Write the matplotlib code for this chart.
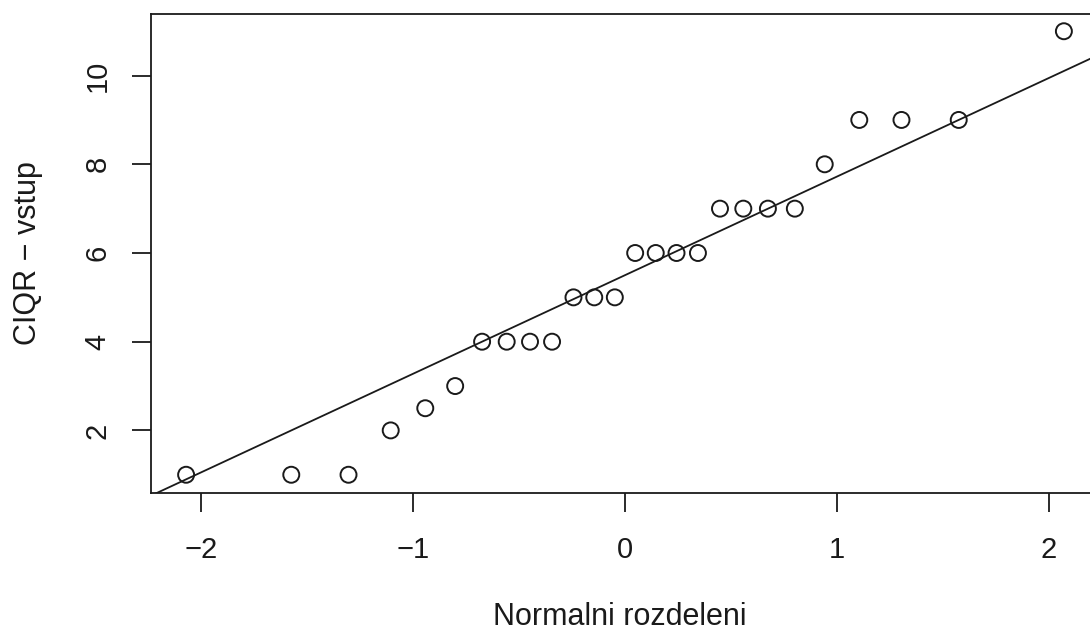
import numpy as np
import matplotlib
matplotlib.use("Agg")
import matplotlib.pyplot as plt

plt.rcParams["font.family"] = ["Liberation Sans", "DejaVu Sans"]

# teoreticke kvantily (qqnorm, n = 26) a pozorovane hodnoty
theor = [-2.070, -1.574, -1.304, -1.105, -0.942, -0.801, -0.674, -0.558, -0.448,
         -0.344, -0.243, -0.145, -0.048, 0.048, 0.145, 0.243, 0.344, 0.448,
         0.558, 0.674, 0.801, 0.942, 1.105, 1.304, 1.574, 2.070]
ciqr = [1, 1, 1, 2, 2.5, 3, 4, 4, 4, 4, 5, 5, 5, 6, 6, 6, 6, 7, 7, 7, 7, 8,
        9, 9, 9, 11]
xticks = [-2, -1, 0, 1, 2]
yticks = [2, 4, 6, 8, 10]

x = np.array(theor)
y = np.array(ciqr)

fig = plt.figure(figsize=(10.9, 6.34), dpi=100)
ax = fig.add_axes([151 / 1090, 1 - 492.5 / 634, 948 / 1090, 479 / 634])

ax.scatter(x, y, s=11.5 ** 2, facecolors="none", edgecolors="#1a1a1a",
           linewidths=1.4, zorder=3)

# qqline: primka pres kvartily
q1, q3 = np.percentile(y, [25, 75])
z1, z3 = -0.6745, 0.6745
slope = (q3 - q1) / (z3 - z1)
icpt = q1 - slope * z1
xl = np.array([-3, 3])
ax.plot(xl, icpt + slope * xl, color="#1a1a1a", lw=1.3)

ax.set_xlim(-2.2356, 2.2356)
ax.set_ylim(0.6, 11.4)
ax.set_xticks(xticks)
ax.set_xticklabels(["\u22122", "\u22121", "0", "1", "2"])
ax.set_yticks(yticks)
ax.set_yticklabels([str(v) for v in yticks], rotation=90, va="center")

for s in ax.spines.values():
    s.set_linewidth(1.3)
    s.set_color("#1a1a1a")

ax.tick_params(length=13.5, width=1.3, color="#1a1a1a", labelsize=21,
               labelcolor="#1a1a1a")
ax.tick_params(axis="x", pad=18)
ax.tick_params(axis="y", pad=15)

ax.set_xlabel("Normalni rozdeleni", fontsize=22, color="#1a1a1a", va="center")
ax.xaxis.set_label_coords(0.494, (492.5 - 617) / 479)
ax.set_ylabel("CIQR \u2212 vstup", fontsize=22, color="#1a1a1a", va="center")
ax.yaxis.set_label_coords((28 - 151) / 948, 0.5)

fig.savefig("out.png", dpi=100)
